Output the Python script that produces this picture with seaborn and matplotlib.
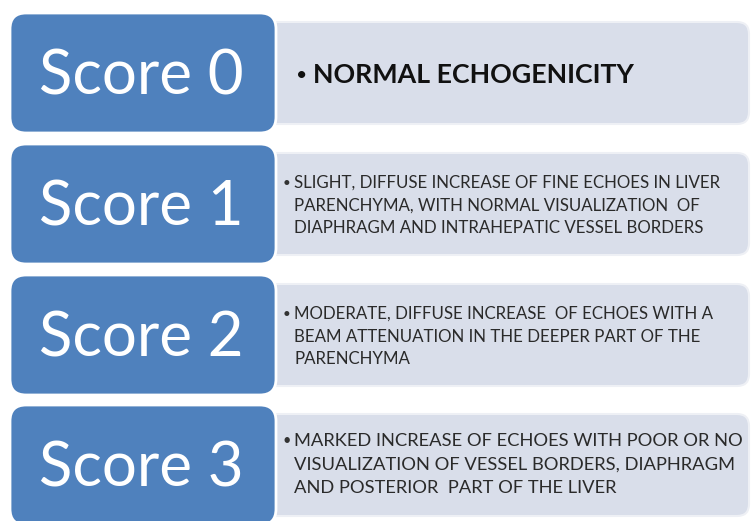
import matplotlib
matplotlib.use('Agg')
import matplotlib.pyplot as plt
from matplotlib.patches import FancyBboxPatch
import seaborn as sns

# scoring scheme (liver echogenicity)
scores = ['Score 0', 'Score 1', 'Score 2', 'Score 3']
descriptions = [
  ['NORMAL ECHOGENICITY'],
  ['SLIGHT, DIFFUSE INCREASE OF FINE ECHOES IN LIVER',
   'PARENCHYMA, WITH NORMAL VISUALIZATION  OF',
   'DIAPHRAGM AND INTRAHEPATIC VESSEL BORDERS'],
  ['MODERATE, DIFFUSE INCREASE  OF ECHOES WITH A',
   'BEAM ATTENUATION IN THE DEEPER PART OF THE',
   'PARENCHYMA'],
  ['MARKED INCREASE OF ECHOES WITH POOR OR NO',
   'VISUALIZATION OF VESSEL BORDERS, DIAPHRAGM',
   'AND POSTERIOR  PART OF THE LIVER'],
]

sns.set_theme(style='white')
plt.rcParams['font.family'] = ['Lato', 'DejaVu Sans']

blue = '#4f81bd'
light = '#d9deea'

fig = plt.figure(figsize=(7.51, 5.21), dpi=100)
ax = fig.add_axes([0, 0, 1, 1])
ax.set_xlim(0, 751)
ax.set_ylim(521, 0)
ax.axis('off')

row_top = [13, 144, 275, 405]
for i, (score, lines) in enumerate(zip(scores, descriptions)):
  top = row_top[i]
  # light description box behind
  ax.add_patch(FancyBboxPatch((255, top + 9), 494, 102,
                              boxstyle='round,pad=0,rounding_size=12',
                              facecolor=light, edgecolor='#eef0f5', lw=1.5, zorder=1))
  # blue score box
  ax.add_patch(FancyBboxPatch((10, top), 266, 120,
                              boxstyle='round,pad=0,rounding_size=16',
                              facecolor=blue, edgecolor='white', lw=2, zorder=2))
  ax.text(141, top + 64, score, color='white', fontsize=44.5,
          ha='center', va='center', zorder=3)

  if i == 0:
    ax.text(296, top + 62, '\u2022', fontsize=14,
            ha='left', va='center', color='#111111', zorder=3)
    ax.text(313, top + 62, lines[0], fontsize=19.3, fontweight='bold',
            ha='left', va='center', color='#111111', zorder=3)
  else:
    fs = 12.2 if i < 3 else 13.2
    step = 22.5 if i < 3 else 23.5
    y0 = top + 39 if i < 3 else top + 36
    ax.text(283, y0, '\u2022', fontsize=fs * 0.8, ha='left', va='center',
            color='#333333', zorder=3)
    for k, ln in enumerate(lines):
      ax.text(294, y0 + k * step, ln, fontsize=fs, color='#2a2a2a',
              ha='left', va='center', zorder=3)

fig.savefig('out.png', dpi=100, facecolor='white')
